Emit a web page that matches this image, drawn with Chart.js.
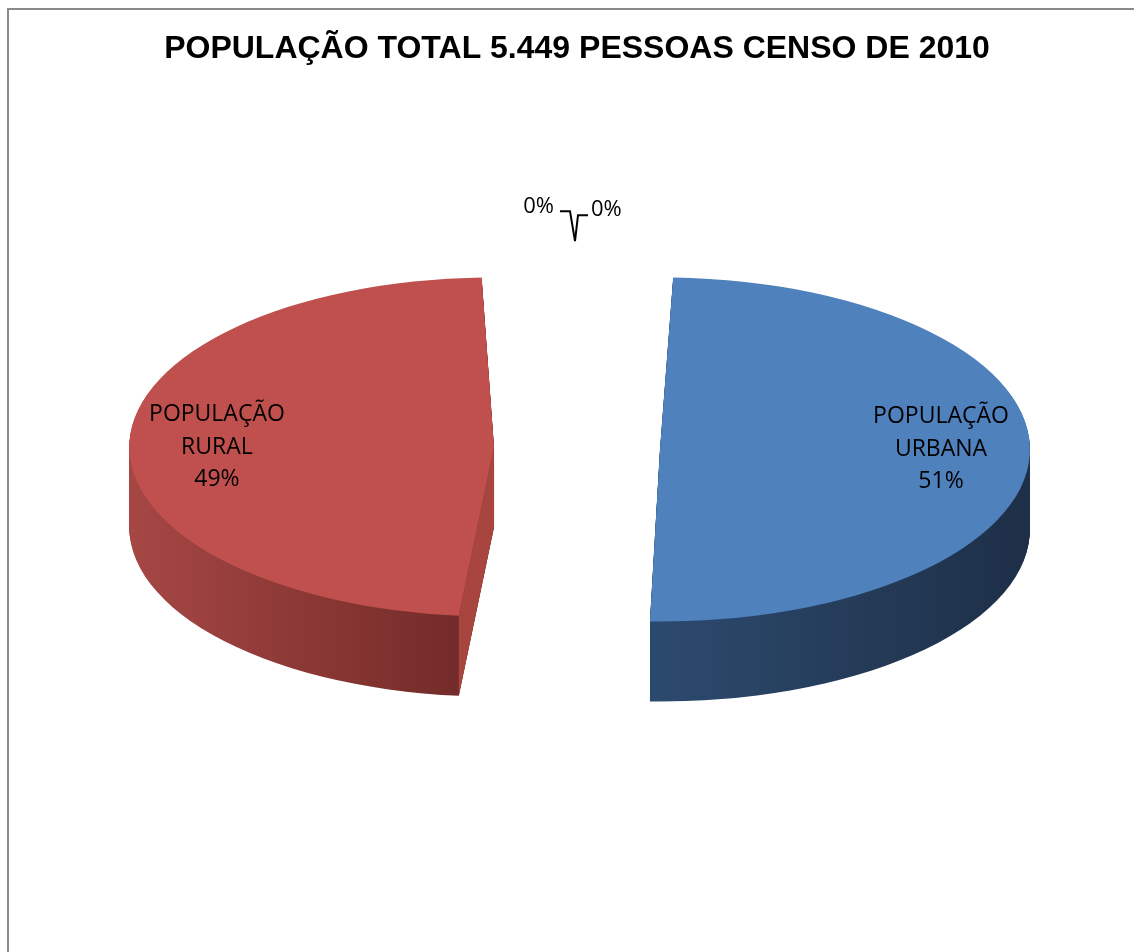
<!DOCTYPE html>
<html>
<head>
<meta charset="utf-8">
<script src="https://cdn.jsdelivr.net/npm/chart.js@4.4.0/dist/chart.umd.min.js"></script>
<style>
body { margin: 0; background: #fff; }
#wrap { width: 1134px; height: 952px; }
</style>
</head>
<body>
<div id="wrap"><canvas id="pizza" width="1134" height="952"></canvas></div>
<script>
// dados do grafico
var categorias = ['POPULAÇÃO URBANA', 'POPULAÇÃO RURAL', 'OUTROS 1', 'OUTROS 2'];
var valores = [2779, 2670, 0, 0];
var titulo = 'POPULAÇÃO TOTAL 5.449 PESSOAS CENSO DE 2010';

// cores (topo, lateral clara, lateral escura, face do corte)
var cor_topo = ['#4F81BD', '#C0504D', '#9BBB59', '#8064A2'];
var cor_lado_a = ['#2C4A6E', '#A64744', '#7A9444', '#5F4A7A'];
var cor_lado_b = ['#1E2F47', '#6E2826', '#55692F', '#42345A'];
var cor_corte = ['#22395A', '#A8453F', '#6A8A3A', '#574373'];

var achatar = 0.465;     // ellipse squash of the 3d look
var profundidade = 80;   // height of the pie side

var total = 0;
for (var i = 0; i < valores.length; i++) total += valores[i];

function pct(v) { return Math.round(v / total * 100) + '%'; }

// same geometry the ArcElement uses when it has an offset
function geo(arc) {
	var off = (arc.options.offset || 0) / 4;
	var alpha = arc.endAngle - arc.startAngle;
	var mid = (arc.startAngle + arc.endAngle) / 2;
	var ro = off * (1 - Math.sin(Math.min(Math.PI, alpha || 0)));
	var R = arc.outerRadius + ro;
	var beta = Math.max(0.001, alpha * R - ro / Math.PI) / R;
	var ao = (alpha - beta) / 2;
	return {
		dx: Math.cos(mid) * off, dy: Math.sin(mid) * off,
		R: R, s: arc.startAngle + ao, e: arc.endAngle - ao, mid: mid
	};
}

function achata(ctx, cx, cy) {
	ctx.translate(cx, cy);
	ctx.scale(1, achatar);
	ctx.translate(-cx, -cy);
}

function tela(cx, cy, x, y) {
	return { x: x, y: cy + (y - cy) * achatar };
}

var moldura = {
	id: 'moldura',
	beforeDraw: function (chart) {
		var ctx = chart.ctx;
		ctx.save();
		ctx.strokeStyle = '#8a8a8a';
		ctx.lineWidth = 2;
		ctx.strokeRect(8, 9, 2000, 2000);
		ctx.restore();
	}
};

var pizza3d = {
	id: 'pizza3d',
	beforeDatasetsDraw: function (chart) {
		var ctx = chart.ctx;
		var arcs = chart.getDatasetMeta(0).data;
		var cx = arcs[0].x, cy = arcs[0].y;

		// lateral
		arcs.forEach(function (arc, i) {
			if (arc.endAngle - arc.startAngle <= 0) return;
			var g = geo(arc);
			var minx = cx, maxx = cx;
			for (var a = g.s; a <= g.e; a += 0.02) {
				var px = cx + Math.cos(a) * g.R;
				if (Math.sin(a) > 0) { minx = Math.min(minx, px); maxx = Math.max(maxx, px); }
			}
			var grad = ctx.createLinearGradient(minx, 0, maxx, 0);
			grad.addColorStop(0, cor_lado_a[i]);
			grad.addColorStop(1, cor_lado_b[i]);
			for (var z = profundidade; z >= 1; z--) {
				ctx.save();
				ctx.translate(0, z);
				achata(ctx, cx, cy);
				ctx.translate(g.dx, g.dy);
				ctx.beginPath();
				ctx.moveTo(cx, cy);
				ctx.arc(cx, cy, g.R, g.s, g.e);
				ctx.closePath();
				ctx.fillStyle = grad;
				ctx.fill();
				ctx.restore();
			}
		});

		// faces do corte
		arcs.forEach(function (arc, i) {
			if (arc.endAngle - arc.startAngle <= 0) return;
			var g = geo(arc);
			var bordas = [[g.s, g.s - Math.PI / 2], [g.e, g.e + Math.PI / 2]];
			bordas.forEach(function (b) {
				if (Math.sin(b[1]) <= 0.001) return;
				var c = tela(cx, cy, cx + g.dx, cy + g.dy);
				var p = tela(cx, cy, cx + g.dx + Math.cos(b[0]) * g.R, cy + g.dy + Math.sin(b[0]) * g.R);
				ctx.save();
				ctx.beginPath();
				ctx.moveTo(c.x, c.y);
				ctx.lineTo(p.x, p.y);
				ctx.lineTo(p.x, p.y + profundidade);
				ctx.lineTo(c.x, c.y + profundidade);
				ctx.closePath();
				ctx.fillStyle = cor_corte[i];
				ctx.fill();
				ctx.restore();
			});
		});

		// topo achatado, desenhado pelo proprio chart
		ctx.save();
		achata(ctx, cx, cy);
	},
	afterDatasetsDraw: function (chart) {
		var ctx = chart.ctx;
		ctx.restore();

		var arcs = chart.getDatasetMeta(0).data;
		var cx = arcs[0].x, cy = arcs[0].y;
		ctx.save();
		ctx.fillStyle = '#000';
		ctx.font = '23px "Open Sans"';
		ctx.textAlign = 'center';
		ctx.textBaseline = 'middle';

		arcs.forEach(function (arc, i) {
			if (valores[i] <= 0) return;
			var g = geo(arc);
			var r = g.R * 0.76;
			var p = tela(cx, cy, cx + g.dx + Math.cos(g.mid) * r, cy + g.dy);
			var partes = categorias[i].split(' ');
			partes.push(pct(valores[i]));
			var y0 = p.y - (partes.length - 1) * 32.5 / 2;
			partes.forEach(function (t, k) { ctx.fillText(t, p.x, y0 + k * 32.5); });
		});

		// rotulos das fatias vazias com linhas guia
		ctx.font = '22px "Open Sans"';
		var zeros = [];
		arcs.forEach(function (arc, i) { if (valores[i] <= 0) zeros.push(arc); });
		if (zeros.length) {
			var gz = geo(zeros[0]);
			var ponta = tela(cx, cy, cx + Math.cos(gz.mid) * gz.R, cy + Math.sin(gz.mid) * gz.R);
			ponta.y -= 35;
			ponta.x -= 2;
			ctx.strokeStyle = '#000';
			ctx.lineWidth = 2;
			ctx.beginPath();
			ctx.moveTo(ponta.x - 15, ponta.y - 30);
			ctx.lineTo(ponta.x - 5, ponta.y - 30);
			ctx.lineTo(ponta.x, ponta.y);
			ctx.stroke();
			ctx.beginPath();
			ctx.moveTo(ponta.x + 13, ponta.y - 26);
			ctx.lineTo(ponta.x + 3, ponta.y - 26);
			ctx.lineTo(ponta.x, ponta.y);
			ctx.stroke();
			ctx.textAlign = 'right';
			ctx.fillText(pct(valores[2]), ponta.x - 21, ponta.y - 34);
			ctx.textAlign = 'left';
			ctx.fillText(pct(valores[3]), ponta.x + 16, ponta.y - 31);
		}
		ctx.restore();
	}
};

var ctx2 = document.getElementById('pizza').getContext('2d');
var myChart = new Chart(ctx2, {
	type: 'pie',
	data: {
		labels: categorias,
		datasets: [{
			data: valores,
			backgroundColor: cor_topo,
			borderWidth: 0,
			offset: 332
		}]
	},
	options: {
		responsive: false,
		animation: false,
		events: [],
		radius: 287,
		layout: { padding: { left: 20, right: 0, top: 0, bottom: 124 } },
		plugins: {
			legend: { display: false },
			tooltip: { enabled: false },
			title: {
				display: true,
				text: titulo,
				color: '#000',
				font: { family: '"Liberation Sans", Arial', size: 32, weight: 'bold', lineHeight: 1.2 },
				padding: { top: 30, bottom: 0 }
			}
		}
	},
	plugins: [moldura, pizza3d]
});
</script>
</body>
</html>
